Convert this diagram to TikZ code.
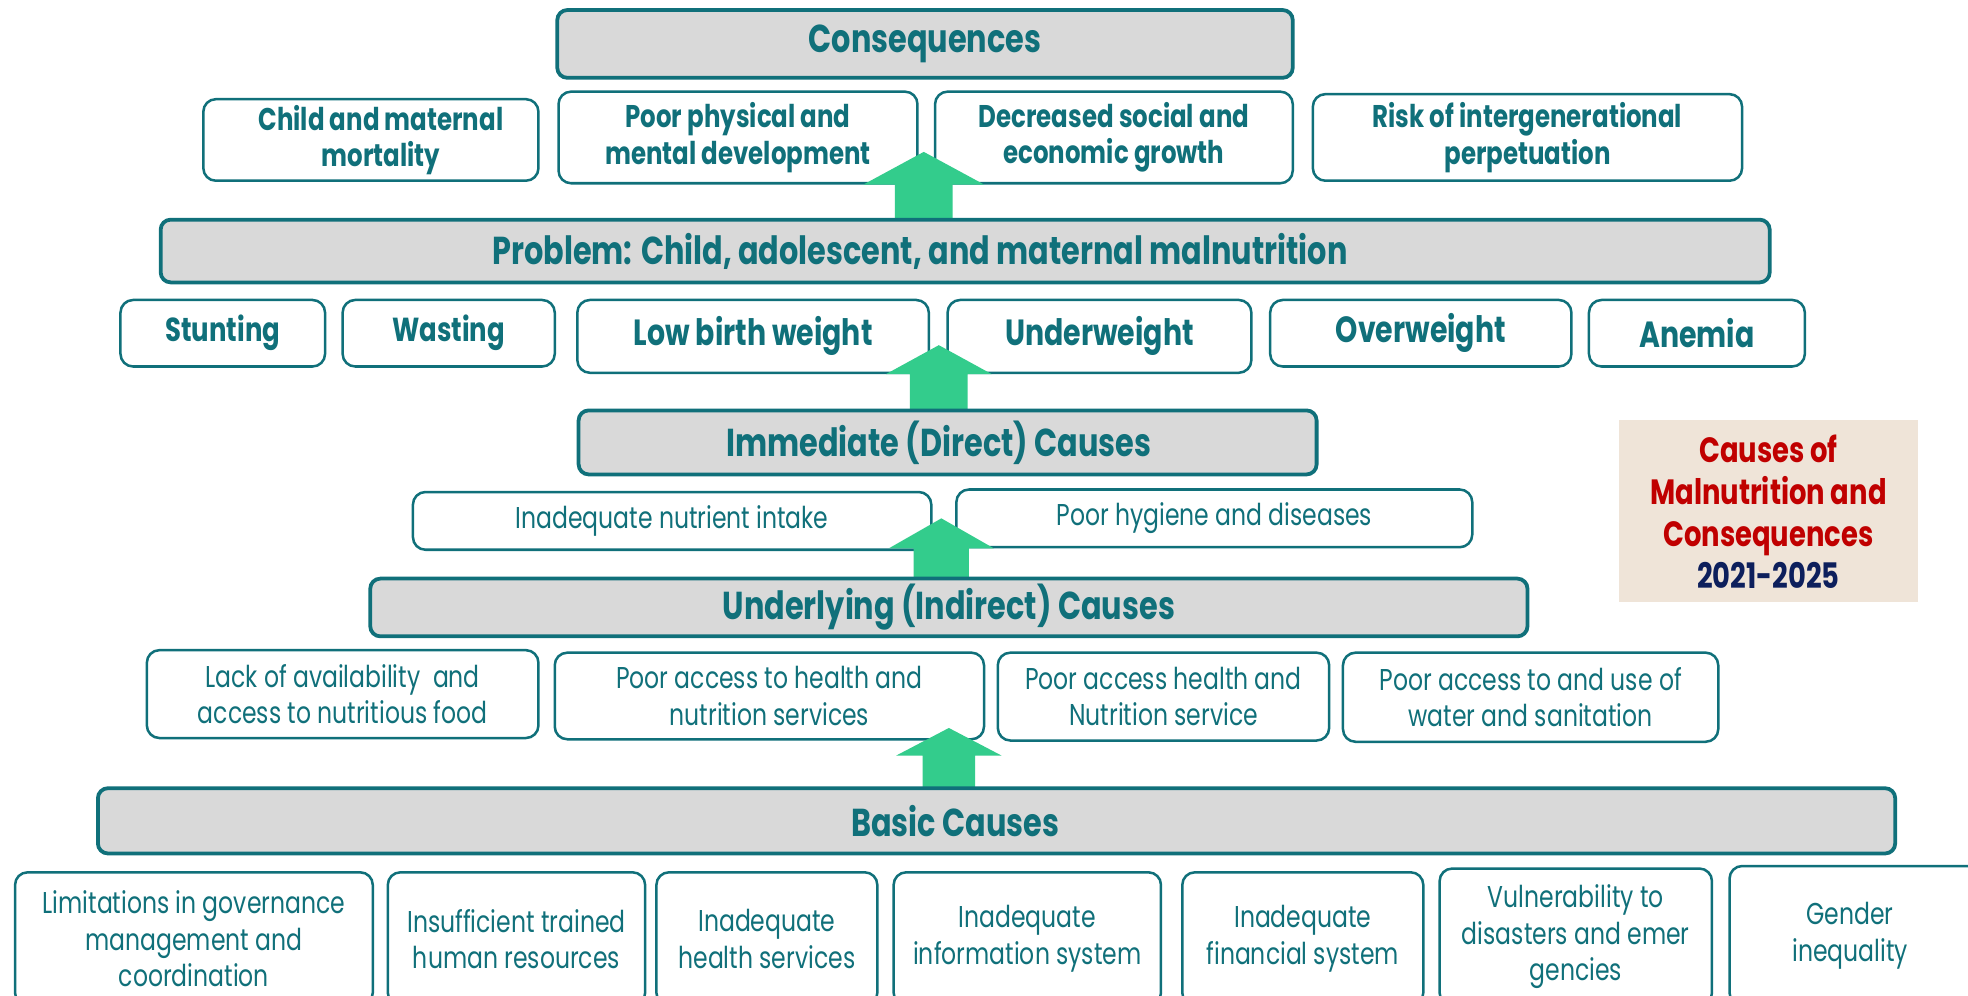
\documentclass[tikz,border=0pt]{standalone}
\usepackage{fontspec}
\setmainfont{Poppins}[FakeStretch=0.78]
\definecolor{teal1}{HTML}{10707A}
\definecolor{grayfill}{HTML}{D9D9D9}
\definecolor{arrowgreen}{HTML}{33CC8C}
\definecolor{beige}{HTML}{EFE4D8}
\definecolor{redtxt}{HTML}{C00000}
\definecolor{navytxt}{HTML}{0D1F5C}
\tikzset{
  titlebox/.style={draw=teal1, line width=3pt, fill=grayfill, rounded corners=8pt, inner sep=0pt,
    text=teal1, font=\bfseries\fontsize{31}{34}\selectfont, align=center},
  itembox/.style={draw=teal1, line width=2pt, fill=white, rounded corners=10pt, inner sep=0pt,
    text=teal1, align=center},
  boldA/.style={font=\bfseries\fontsize{25}{29}\selectfont},
  boldB/.style={font=\bfseries\fontsize{29}{32}\selectfont},
  boldC/.style={font=\bfseries\fontsize{26.5}{30}\selectfont},
  plainA/.style={font=\fontsize{24}{29}\selectfont},
  fatarrow/.style={fill=arrowgreen, draw=none}
}
% box with centred text
\newcommand\bx[7]{\node[#6, minimum width={(#4-#2)*1pt}, minimum height={(#5-#3)*1pt}] (#1) at ({(#2+#4)/2},{(#3+#5)/2}) {#7};}
% box whose text is shifted horizontally by #8
\newcommand\bxo[8]{\node[#6, minimum width={(#4-#2)*1pt}, minimum height={(#5-#3)*1pt}] (#1) at ({(#2+#4)/2},{(#3+#5)/2}) {};
  \node[#6, draw=none, fill=none, minimum width=0pt, minimum height=0pt] (#1-t) at ([xshift=#8pt]#1.center) {#7};}
\newcommand\uparr[6]{% x-tip, y-tip, y-headbase, half-head, half-shaft, y-bottom
  \fill[fatarrow] (#1,#2) -- ({#1+#4},#3) -- ({#1+#5},#3) -- ({#1+#5},#6) -- ({#1-#5},#6) -- ({#1-#5},#3) -- ({#1-#4},#3) -- cycle;}
\begin{document}
\begin{tikzpicture}[x=1pt,y=-1pt]
\useasboundingbox (0,0) rectangle (1568,793);
\clip (0,0) rectangle (1568,793);
\fill[white] (0,0) rectangle (1568,793);
% consequences
\bxo{c1}{162}{79}{429}{144}{itembox,boldA}{Child and maternal\\mortality}{8}
\bx{c2}{445}{73}{731}{146}{itembox,boldA}{Poor physical and\\mental development}
\bx{c3}{745}{73}{1030}{146}{itembox,boldA}{Decreased social and\\economic growth}
\bx{c4}{1046}{75}{1388}{144}{itembox,boldA}{Risk of intergenerational\\perpetuation}
\uparr{736}{121}{147}{48}{23}{176}
\bx{cons}{444}{8}{1030}{62}{titlebox}{Consequences}
% problem
\bx{p1}{96}{239}{259}{292}{itembox,boldC}{Stunting}
\bx{p2}{273}{239}{442}{292}{itembox,boldC}{Wasting}
\bx{p3}{460}{239}{740}{297}{itembox,boldB}{Low birth weight}
\bx{p4}{755}{239}{997}{297}{itembox,boldB}{Underweight}
\bx{p5}{1012}{239}{1252}{292}{itembox,boldB}{Overweight}
\bx{p6}{1266}{239}{1438}{292}{itembox,boldB}{Anemia}
\uparr{748}{275}{298}{42}{23}{328}
\bxo{prob}{128}{175}{1410}{225}{titlebox}{Problem: Child, adolescent, and maternal malnutrition}{-36}
% immediate
\bx{i1}{329}{392}{742}{438}{itembox,plainA}{Inadequate nutrient intake}
\bx{i2}{762}{390}{1173}{436}{itembox,plainA}{Poor hygiene and diseases}
\uparr{750}{413}{437}{42}{22}{462}
\bxo{imm}{461}{327}{1049}{378}{titlebox}{Immediate (Direct) Causes}{-7}
% underlying
\bx{u1}{117}{518}{429}{588}{itembox,plainA}{Lack of availability\ \ and\\access to nutritious food}
\bx{u2}{442}{520}{784}{589}{itembox,plainA}{Poor access to health and\\nutrition services}
\bx{u3}{795}{520}{1059}{590}{itembox,plainA}{Poor access health and\\Nutrition service}
\bx{u4}{1070}{520}{1369}{591}{itembox,plainA}{Poor access to and use of\\water and sanitation}
\uparr{756}{580}{602}{42}{21}{629}
\bx{und}{295}{461}{1217}{507}{titlebox}{Underlying (Indirect) Causes}
% basic
\bxo{basic}{78}{628}{1510}{680}{titlebox}{Basic Causes}{-33}
\bx{b1}{12}{695}{297}{801}{itembox,plainA}{Limitations in governance\\management and\\coordination}
\bx{b2}{309}{695}{514}{801}{itembox,plainA}{Insufficient trained\\human resources}
\bx{b3}{523}{695}{699}{801}{itembox,plainA}{Inadequate\\health services}
\bx{b4}{712}{695}{925}{801}{itembox,plainA}{Inadequate\\information system}
\bx{b5}{942}{695}{1134}{801}{itembox,plainA}{Inadequate\\financial system}
\bx{b6}{1147}{692}{1364}{801}{itembox,plainA}{Vulnerability to\\disasters and emer\\gencies}
\bxo{b7}{1378}{690}{1578}{801}{itembox,plainA}{Gender\\inequality}{-4}
% side box
\node[fill=beige, minimum width=238pt, minimum height=145pt, inner sep=0pt, align=center,
  font=\bfseries\fontsize{28}{33.5}\selectfont] (side) at (1409,407.5)
  {\textcolor{redtxt}{Causes of}\\\textcolor{redtxt}{Malnutrition and}\\\textcolor{redtxt}{Consequences}\\\textcolor{navytxt}{2021-2025}};
\end{tikzpicture}
\end{document}
